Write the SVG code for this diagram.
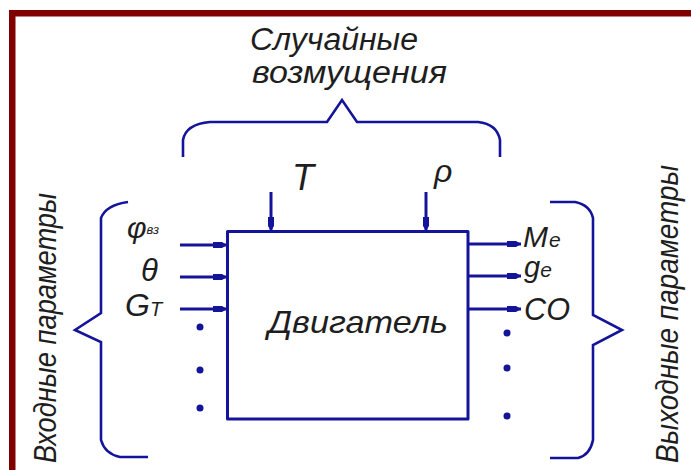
<svg xmlns="http://www.w3.org/2000/svg" width="691" height="470" viewBox="0 0 691 470">
<defs>
<style>
.ln{stroke:#14149a;stroke-width:3;fill:none;stroke-linejoin:round}
.br{stroke:#14149a;stroke-width:2.6;fill:none;stroke-linejoin:miter}
.tx{font-family:"Liberation Sans","DejaVu Sans",sans-serif;font-style:italic;fill:#1e1e1e}
.dot{fill:#14149a}
</style>
<marker id="ah" viewBox="0 0 14 9" refX="14" refY="4.5" markerWidth="14" markerHeight="9" markerUnits="userSpaceOnUse" orient="auto">
<path d="M0,1.5 L9,1.5 L14,4.5 L9,7.5 L0,7.5 Z" fill="#14149a"/>
</marker>
</defs>
<rect x="0" y="0" width="691" height="470" fill="#ffffff"/>
<g id="frame" fill="#800000">
<rect x="9" y="10" width="682" height="6.5"/>
<rect x="9" y="10" width="6.5" height="460"/>
</g>
<g id="disturbances">
<text class="tx" x="250" y="50" font-size="31" textLength="168" lengthAdjust="spacingAndGlyphs">Случайные</text>
<text class="tx" x="252" y="83" font-size="31" textLength="195" lengthAdjust="spacingAndGlyphs">возмущения</text>
<path class="br" d="M183,157 L183,140 Q186,124 210,122 L327,122 L342,100 L357,122 L478,122 Q497,124 500,140 L500,157"/>
</g>
<g id="engine">
<rect class="ln" x="227.5" y="231.5" width="240.5" height="187.5"/>
<text class="tx" x="268" y="333" font-size="32" textLength="180" lengthAdjust="spacingAndGlyphs">Двигатель</text>
</g>
<g id="top-inputs">
<text class="tx" x="292" y="190" font-size="36">T</text>
<text class="tx" x="434" y="182" font-size="32">ρ</text>
</g>
<g id="inputs">
<text class="tx" x="127" y="238" font-size="30">φ<tspan font-size="13" dy="-4">вз</tspan></text>
<text class="tx" x="141" y="281" font-size="31">θ</text>
<text class="tx" x="125" y="316" font-size="32">G<tspan font-size="20">T</tspan></text>
<circle class="dot" cx="200" cy="327" r="3.5"/>
<circle class="dot" cx="200" cy="370" r="3.5"/>
<circle class="dot" cx="200" cy="408" r="3.5"/>
<path class="br" d="M128,202 Q106,205 101,218 L101,313 L75,330 L101,342 L101,440 Q105,454 120,457 L148,457"/>
<text class="tx" transform="translate(56,463) rotate(-90)" font-size="32" textLength="270" lengthAdjust="spacingAndGlyphs">Входные параметры</text>
</g>
<g id="outputs">
<text class="tx" x="523" y="247" font-size="30">M<tspan font-size="21" dx="1">e</tspan></text>
<text class="tx" x="524" y="277" font-size="29">g<tspan font-size="21">e</tspan></text>
<text class="tx" x="524" y="320" font-size="32" textLength="46" lengthAdjust="spacingAndGlyphs">CO</text>
<circle class="dot" cx="507" cy="333" r="3.5"/>
<circle class="dot" cx="507" cy="368" r="3.5"/>
<circle class="dot" cx="507" cy="416" r="3.5"/>
<path class="br" d="M550,202 L575,202 Q590,205 593,218 L593,315 L622,330 L593,345 L593,440 Q590,455 578,458 L550,458"/>
<text class="tx" transform="translate(678,463) rotate(-90)" font-size="32" textLength="298" lengthAdjust="spacingAndGlyphs">Выходные параметры</text>
</g>
<g id="connectors" class="ln" marker-end="url(#ah)">
<line x1="271" y1="192" x2="271" y2="231"/>
<line x1="426" y1="192" x2="426" y2="231"/>
<line x1="180" y1="245" x2="227" y2="245"/>
<line x1="180" y1="277" x2="227" y2="277"/>
<line x1="180" y1="309" x2="227" y2="309"/>
<line x1="468" y1="244" x2="521" y2="244"/>
<line x1="468" y1="276" x2="521" y2="276"/>
<line x1="468" y1="309" x2="521" y2="309"/>
</g>
</svg>
